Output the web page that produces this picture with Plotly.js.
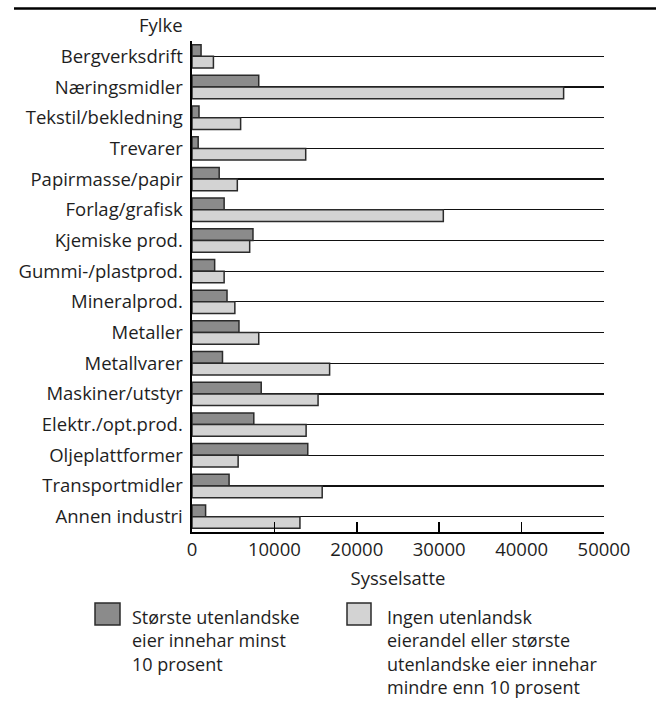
<!DOCTYPE html>
<html>
<head>
<meta charset="utf-8">
<script src="https://cdn.plot.ly/plotly-3.0.1.min.js"></script>
<style>
html,body{margin:0;padding:0;background:#fff;}
#chart{width:656px;height:702px;}
</style>
</head>
<body>
<div id="chart"></div>
<script>
const categories = ["Bergverksdrift","Næringsmidler","Tekstil/bekledning","Trevarer","Papirmasse/papir","Forlag/grafisk","Kjemiske prod.","Gummi-/plastprod.","Mineralprod.","Metaller","Metallvarer","Maskiner/utstyr","Elektr./opt.prod.","Oljeplattformer","Transportmidler","Annen industri"];
const foreignOwned = [1100, 8100, 850, 750, 3300, 3900, 7400, 2750, 4250, 5700, 3700, 8400, 7500, 14050, 4500, 1650];
const domesticOwned = [2600, 45100, 5900, 13800, 5500, 30500, 7000, 3900, 5200, 8100, 16700, 15300, 13850, 5600, 15800, 13100];
const seriesNames = ["Største utenlandske<br>eier innehar minst<br>10 prosent", "Ingen utenlandsk<br>eierandel eller største<br>utenlandske eier innehar<br>mindre enn 10 prosent"];
const xTicks = [0, 10000, 20000, 30000, 40000, 50000];
const xTitle = "Sysselsatte";
const yTitle = "Fylke";

const darkFill = "#8b8b8b", lightFill = "#d3d3d3", edge = "#2b2b2b", textCol = "#1e1e1e";
const FONT = "Open Sans, sans-serif";

const traces = [
  {type:"bar", orientation:"h", y:categories, x:foreignOwned, name:seriesNames[0],
   marker:{color:darkFill, line:{color:edge, width:1.5}}, showlegend:false},
  {type:"bar", orientation:"h", y:categories, x:domesticOwned, name:seriesNames[1],
   marker:{color:lightFill, line:{color:edge, width:1.5}}, showlegend:false}
];

// plot area geometry in pixels
const L = 192, R = 604, T = 41, B = 532, W = R - L, H = B - T;
const px = v => (v - L) / W;
const py = v => (B - v) / H;

const shapes = [
  {type:"line", xref:"paper", yref:"paper", x0:px(14), x1:px(656), y0:py(8.5), y1:py(8.5), line:{color:"#000", width:2.5}},
  {type:"rect", xref:"paper", yref:"paper", x0:px(95), x1:px(120), y0:py(625), y1:py(603), fillcolor:darkFill, line:{color:edge, width:1.5}},
  {type:"rect", xref:"paper", yref:"paper", x0:px(347), x1:px(371), y0:py(625), y1:py(603), fillcolor:lightFill, line:{color:edge, width:1.5}}
];

const annotations = [
  {xref:"paper", yref:"paper", x:px(185), y:py(25), xanchor:"right", yanchor:"middle", text:yTitle, showarrow:false, font:{family:FONT, size:18.5, color:textCol}}
];
const legendX = [130, 385];
const legendTop = [603, 603];
seriesNames.forEach((nm, i) => {
  annotations.push({xref:"paper", yref:"paper", x:px(legendX[i]), y:py(legendTop[i]), xanchor:"left", yanchor:"top", align:"left",
    text:nm, showarrow:false, font:{family:FONT, size:18, color:textCol}});
});

const layout = {
  width:656, height:702,
  margin:{l:L, r:656-R, t:T, b:702-B, pad:0},
  paper_bgcolor:"#fff", plot_bgcolor:"#fff",
  font:{family:FONT, size:18.5, color:textCol},
  barmode:"group", bargap:0.24, bargroupgap:0,
  showlegend:false,
  xaxis:{range:[0,50000], tickvals:xTicks, ticktext:xTicks.map(String), ticks:"inside", ticklen:10, tickwidth:1.5, tickcolor:"#000",
    showline:true, linecolor:"#000", linewidth:2, showgrid:false, zeroline:false,
    title:{text:xTitle, standoff:12, font:{family:FONT, size:18.5, color:textCol}}, fixedrange:true},
  yaxis:{type:"category", autorange:"reversed", showline:true, linecolor:"#000", linewidth:2.5,
    showgrid:true, gridcolor:"#111", gridwidth:1.2, ticks:"", ticklabelstandoff:3, zeroline:false, fixedrange:true},
  shapes:shapes, annotations:annotations
};

Plotly.newPlot("chart", traces, layout, {displayModeBar:false, staticPlot:true});
</script>
</body>
</html>
